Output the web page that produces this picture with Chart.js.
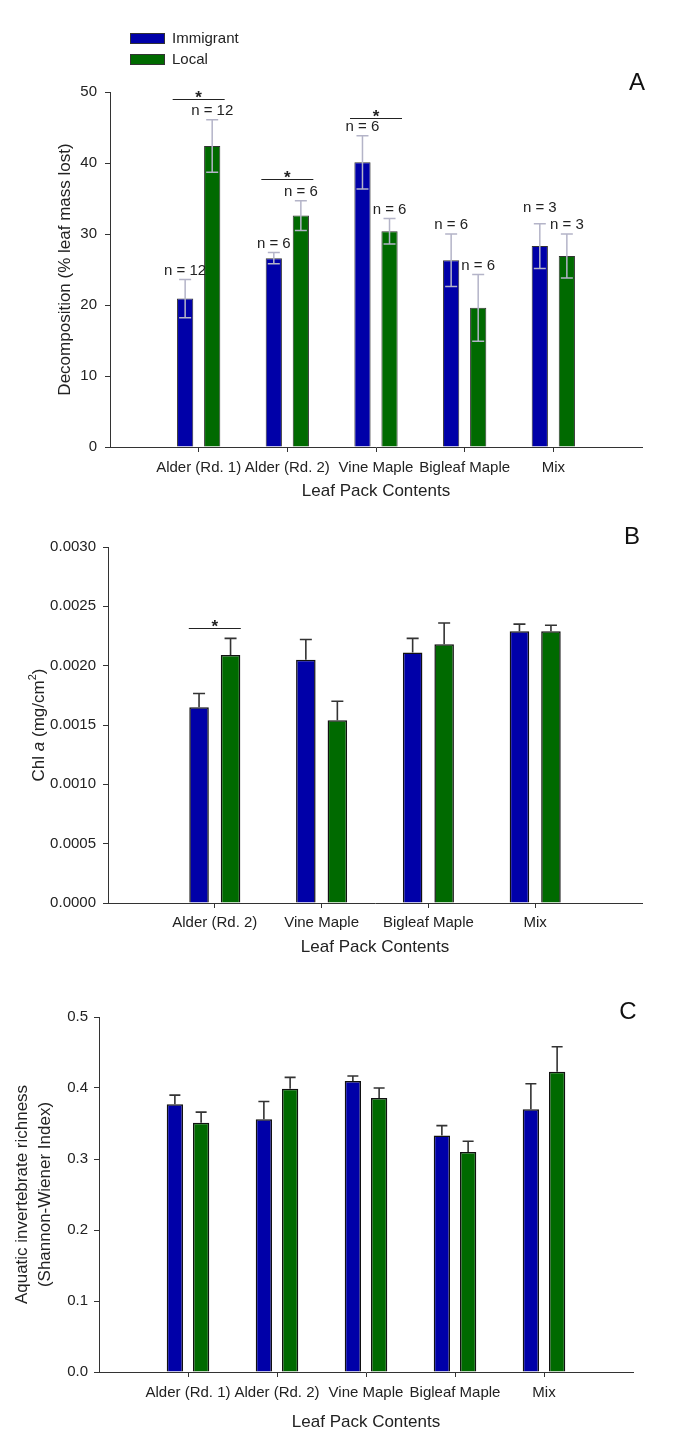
<!DOCTYPE html>
<html>
<head>
<meta charset="utf-8">
<title>Leaf pack decomposition, chlorophyll a and invertebrate richness</title>
<script src="https://cdn.jsdelivr.net/npm/chart.js@4.4.1/dist/chart.umd.min.js"></script>
<style>
  html, body { margin: 0; padding: 0; background: #fff; }
  #page { position: relative; width: 678px; height: 1433px; }
  canvas { position: absolute; left: 0; }
</style>
</head>
<body>
<div id="page">
  <canvas id="decompChart" width="678" height="510" style="top:0"></canvas>
  <canvas id="chlChart" width="678" height="450" style="top:510px"></canvas>
  <canvas id="richChart" width="678" height="473" style="top:960px"></canvas>
</div>
<script>
// leaf pack treatments
const packsAll = ['Alder (Rd. 1)', 'Alder (Rd. 2)', 'Vine Maple', 'Bigleaf Maple', 'Mix'];
const packsChl = ['Alder (Rd. 2)', 'Vine Maple', 'Bigleaf Maple', 'Mix'];
const seriesNames = ['Immigrant', 'Local'];

// A - decomposition (% leaf mass lost), mean and SE
const decompImmigrant = [20.9, 26.6, 40.1, 26.3, 28.3];
const decompLocal = [42.4, 32.6, 30.4, 19.6, 26.9];
const decompImmigrantSE = [2.7, 0.8, 3.75, 3.7, 3.15];
const decompLocalSE = [3.7, 2.1, 1.8, 4.7, 3.1];
const decompImmigrantN = [12, 6, 6, 6, 3];
const decompLocalN = [12, 6, 6, 6, 3];
const decompSigIndex = [0, 1, 2];
const decompSigLevel = [49.0, 37.7, 46.3];
const decompTicks = [0, 50, 10];

// B - chlorophyll a (mg/cm2)
const chlImmigrant = [0.00165, 0.00205, 0.00211, 0.00229];
const chlLocal = [0.00209, 0.00154, 0.00218, 0.00229];
const chlImmigrantSE = [0.000115, 0.00017, 0.00012, 0.00006];
const chlLocalSE = [0.00014, 0.00016, 0.00018, 0.00005];
const chlSigIndex = [0];
const chlSigLevel = [0.00232];
const chlTicks = [0, 0.003, 0.0005];

// C - Shannon-Wiener index of aquatic invertebrates
const richImmigrant = [0.377, 0.356, 0.410, 0.333, 0.370];
const richLocal = [0.351, 0.399, 0.386, 0.310, 0.423];
const richImmigrantSE = [0.013, 0.025, 0.007, 0.014, 0.036];
const richLocalSE = [0.015, 0.016, 0.014, 0.015, 0.035];
const richTicks = [0, 0.5, 0.1];

const BLUE = '#0000a8';
const GREEN = '#006a00';
const INK = '#222';
const FONT = "'Liberation Sans', Arial, sans-serif";

Chart.defaults.font.family = FONT;
Chart.defaults.color = INK;

// empty slot at each end of the category axis
function pad(arr) { return [null, ...arr, null]; }

function errorBars(opts) {
  return {
    id: 'errorBars',
    afterDatasetsDraw(chart) {
      const ctx = chart.ctx;
      const y = chart.scales.y;
      ctx.save();
      ctx.strokeStyle = opts.color;
      ctx.lineWidth = opts.width;
      chart.data.datasets.forEach((ds, di) => {
        const meta = chart.getDatasetMeta(di);
        ds.data.forEach((v, i) => {
          if (v == null) return;
          const e = ds.errors[i];
          const x = meta.data[i].x;
          const top = y.getPixelForValue(v + e);
          const bottom = y.getPixelForValue(opts.twoSided ? v - e : v);
          ctx.beginPath();
          ctx.moveTo(x, bottom);
          ctx.lineTo(x, top);
          ctx.moveTo(x - opts.cap, top);
          ctx.lineTo(x + opts.cap, top);
          if (opts.twoSided) {
            ctx.moveTo(x - opts.cap, bottom);
            ctx.lineTo(x + opts.cap, bottom);
          }
          ctx.stroke();
        });
      });
      ctx.restore();
    }
  };
}

// "n = x" above each error bar; immigrant label is lifted when it collides with the local one
const sampleSizes = {
  id: 'sampleSizes',
  afterDatasetsDraw(chart) {
    const ctx = chart.ctx;
    const y = chart.scales.y;
    const [imm, loc] = chart.data.datasets;
    ctx.save();
    ctx.font = '15px ' + FONT;
    ctx.fillStyle = INK;
    ctx.textAlign = 'center';
    ctx.textBaseline = 'middle';
    imm.data.forEach((v, i) => {
      if (v == null) return;
      const pts = [imm, loc].map((ds, di) => {
        const text = 'n = ' + ds.counts[i];
        return {
          text,
          x: chart.getDatasetMeta(di).data[i].x,
          y: y.getPixelForValue(ds.data[i] + ds.errors[i]) - 9,
          w: ctx.measureText(text).width
        };
      });
      const [a, b] = pts;
      if (Math.abs(a.x - b.x) < (a.w + b.w) / 2 && Math.abs(a.y - b.y) < 17) {
        a.y = b.y - 17;
      }
      pts.forEach(p => ctx.fillText(p.text, p.x, p.y));
    });
    ctx.restore();
  }
};

function significance(indexes, levels) {
  return {
    id: 'significance',
    afterDatasetsDraw(chart) {
      const ctx = chart.ctx;
      const x = chart.scales.x;
      const y = chart.scales.y;
      ctx.save();
      ctx.strokeStyle = INK;
      ctx.fillStyle = INK;
      ctx.lineWidth = 1.2;
      ctx.font = 'bold 17px ' + FONT;
      ctx.textAlign = 'center';
      ctx.textBaseline = 'alphabetic';
      indexes.forEach((ci, k) => {
        const cx = x.getPixelForValue(ci + 1);
        const ly = Math.round(y.getPixelForValue(levels[k])) + 0.5;
        ctx.beginPath();
        ctx.moveTo(cx - 26, ly);
        ctx.lineTo(cx + 26, ly);
        ctx.stroke();
        ctx.fillText('*', cx, ly + 3);
      });
      ctx.restore();
    }
  };
}

function panelLetter(letter, dx, dy) {
  return {
    id: 'panelLetter',
    afterDraw(chart) {
      const ctx = chart.ctx;
      const area = chart.chartArea;
      ctx.save();
      ctx.font = '24px ' + FONT;
      ctx.fillStyle = '#111';
      ctx.textAlign = 'center';
      ctx.textBaseline = 'middle';
      ctx.fillText(letter, area.right + dx, area.top + dy);
      ctx.restore();
    }
  };
}

// legend boxes in the upper left of the first panel
const seriesKey = {
  id: 'seriesKey',
  afterDraw(chart) {
    const ctx = chart.ctx;
    ctx.save();
    ctx.font = '15px ' + FONT;
    ctx.textBaseline = 'middle';
    chart.data.datasets.forEach((ds, i) => {
      const top = 33 + i * 21;
      ctx.fillStyle = ds.backgroundColor;
      ctx.fillRect(130, top, 35, 11);
      ctx.strokeStyle = '#333';
      ctx.lineWidth = 1;
      ctx.strokeRect(130.5, top + 0.5, 34, 10);
      ctx.fillStyle = INK;
      ctx.fillText(ds.label, 172, top + 6);
    });
    ctx.restore();
  }
};

// rotated y title with italic "a" and superscript 2
const chlTitle = {
  id: 'chlTitle',
  afterDraw(chart) {
    const ctx = chart.ctx;
    const area = chart.chartArea;
    const parts = [
      { t: 'Chl ', f: '17px ' + FONT, dy: 0 },
      { t: 'a', f: 'italic 17px ' + FONT, dy: 0 },
      { t: ' (mg/cm', f: '17px ' + FONT, dy: 0 },
      { t: '2', f: '11px ' + FONT, dy: -6 },
      { t: ')', f: '17px ' + FONT, dy: 0 }
    ];
    ctx.save();
    let total = 0;
    parts.forEach(p => { ctx.font = p.f; p.w = ctx.measureText(p.t).width; total += p.w; });
    ctx.translate(39, (area.top + area.bottom) / 2);
    ctx.rotate(-Math.PI / 2);
    ctx.fillStyle = INK;
    ctx.textBaseline = 'middle';
    let px = -total / 2;
    parts.forEach(p => {
      ctx.font = p.f;
      ctx.fillText(p.t, px, p.dy);
      px += p.w;
    });
    ctx.restore();
  }
};

function barChart(canvasId, cfg) {
  const labels = ['', ...cfg.labels, ''];
  const last = labels.length - 1;
  return new Chart(document.getElementById(canvasId), {
    type: 'bar',
    data: {
      labels,
      datasets: [
        {
          label: seriesNames[0], data: pad(cfg.immigrant), errors: pad(cfg.immigrantSE),
          counts: pad(cfg.immigrantN), backgroundColor: BLUE
        },
        {
          label: seriesNames[1], data: pad(cfg.local), errors: pad(cfg.localSE),
          counts: pad(cfg.localN), backgroundColor: GREEN
        }
      ].map(ds => Object.assign(ds, {
        borderColor: cfg.barEdge, borderWidth: cfg.barEdgeWidth,
        categoryPercentage: cfg.catPct, barPercentage: cfg.barPct
      }))
    },
    options: {
      responsive: false,
      animation: false,
      layout: { padding: cfg.padding },
      plugins: { legend: { display: false }, tooltip: { enabled: false } },
      scales: {
        x: {
          offset: false,
          grid: {
            offset: false, drawOnChartArea: false, tickLength: 5,
            tickColor: c => (c.index === 0 || c.index === last) ? 'rgba(0,0,0,0)' : '#333'
          },
          border: { color: '#333', width: 1 },
          ticks: { autoSkip: false, maxRotation: 0, minRotation: 0, padding: cfg.xTickPad, font: { size: 15 }, color: INK },
          title: { display: true, text: 'Leaf Pack Contents', font: { size: 17 }, color: INK, padding: { top: 0, bottom: cfg.xTitlePad } },
          afterFit: s => { s.height = cfg.xHeight; }
        },
        y: {
          min: cfg.ticks[0], max: cfg.ticks[1],
          grid: { drawOnChartArea: false, tickLength: 5, tickColor: '#333' },
          border: { color: '#333', width: 1 },
          ticks: { stepSize: cfg.ticks[2], padding: cfg.yTickPad, font: { size: 15 }, color: INK, callback: cfg.tickFormat },
          title: cfg.yTitle
            ? { display: true, text: cfg.yTitle, font: { size: 17, lineHeight: cfg.yTitleLineHeight || 1.2 }, color: INK, padding: { top: cfg.yTitlePad, bottom: 0 } }
            : { display: false },
          afterFit: s => { s.width = cfg.yWidth; }
        }
      }
    },
    plugins: cfg.plugins
  });
}

barChart('decompChart', {
  labels: packsAll,
  immigrant: decompImmigrant, local: decompLocal,
  immigrantSE: decompImmigrantSE, localSE: decompLocalSE,
  immigrantN: decompImmigrantN, localN: decompLocalN,
  ticks: decompTicks,
  tickFormat: v => v.toFixed(0),
  barEdge: '#333', barEdgeWidth: 1,
  catPct: 0.61, barPct: 0.6,
  padding: { top: 92, right: 36, left: 0, bottom: 0 },
  yWidth: 110, xHeight: 63, xTickPad: 7, xTitlePad: 8, yTickPad: 8,
  yTitle: 'Decomposition (% leaf mass lost)', yTitlePad: 55,
  plugins: [
    errorBars({ color: '#b4b4c8', width: 1.5, cap: 6, twoSided: true }),
    sampleSizes,
    significance(decompSigIndex, decompSigLevel),
    panelLetter('A', -5, -9),
    seriesKey
  ]
});

barChart('chlChart', {
  labels: packsChl,
  immigrant: chlImmigrant, local: chlLocal,
  immigrantSE: chlImmigrantSE, localSE: chlLocalSE,
  immigrantN: [], localN: [],
  ticks: chlTicks,
  tickFormat: v => v.toFixed(4),
  barEdge: '#111', barEdgeWidth: 1.5,
  catPct: 0.59, barPct: 0.62,
  padding: { top: 37, right: 36, left: 0, bottom: 0 },
  yWidth: 108, xHeight: 57, xTickPad: 6, xTitlePad: 2, yTickPad: 7,
  yTitle: null,
  plugins: [
    errorBars({ color: '#333', width: 1.6, cap: 6, twoSided: false }),
    significance(chlSigIndex, chlSigLevel),
    panelLetter('B', -10, -10),
    chlTitle
  ]
});

barChart('richChart', {
  labels: packsAll,
  immigrant: richImmigrant, local: richLocal,
  immigrantSE: richImmigrantSE, localSE: richLocalSE,
  immigrantN: [], localN: [],
  ticks: richTicks,
  tickFormat: v => v.toFixed(1),
  barEdge: '#111', barEdgeWidth: 1.5,
  catPct: 0.59, barPct: 0.62,
  padding: { top: 57, right: 45, left: 0, bottom: 0 },
  yWidth: 99, xHeight: 61, xTickPad: 7, xTitlePad: 0, yTickPad: 6,
  yTitle: ['Aquatic invertebrate richness', '(Shannon-Wiener Index)'], yTitlePad: 10, yTitleLineHeight: 1.4,
  plugins: [
    errorBars({ color: '#333', width: 1.6, cap: 5.5, twoSided: false }),
    panelLetter('C', -5, -5)
  ]
});
</script>
</body>
</html>
